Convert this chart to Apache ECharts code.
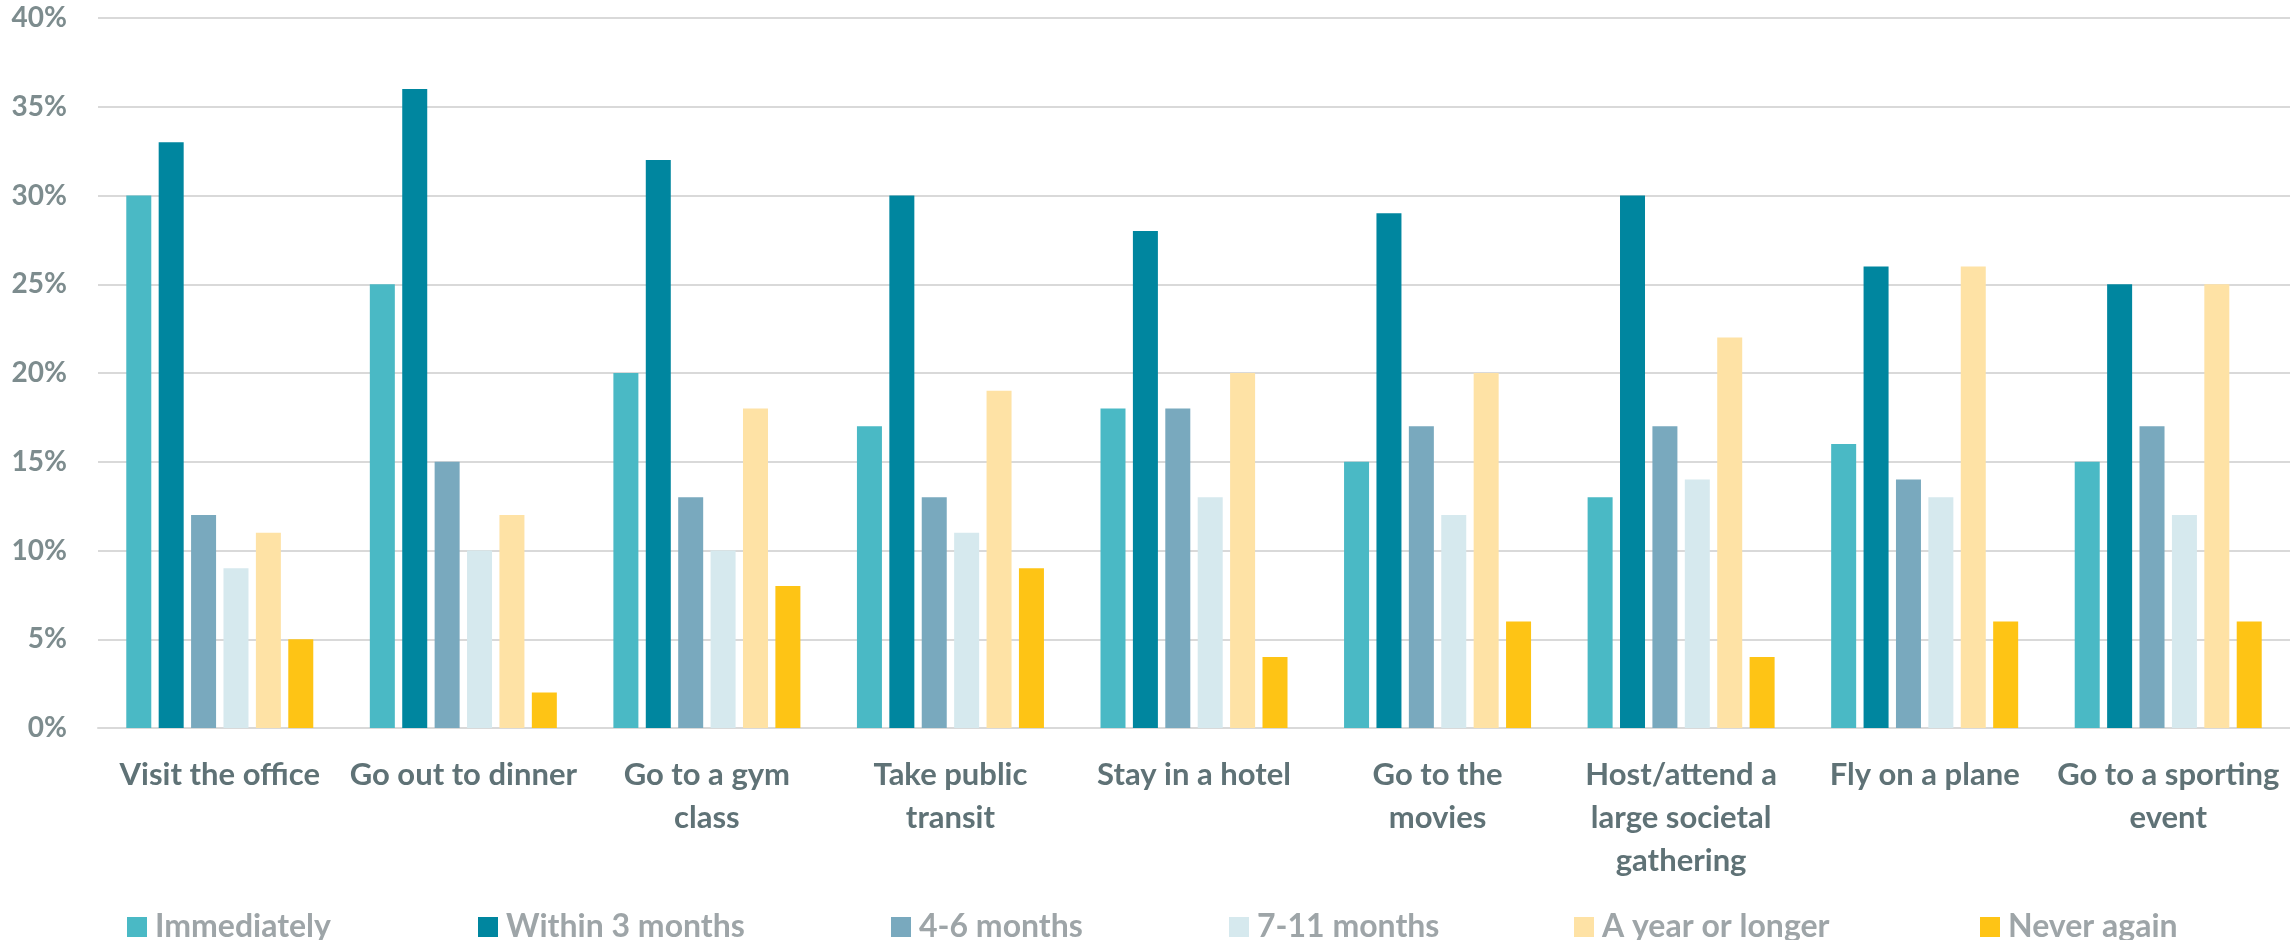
<!DOCTYPE html>
<html>
<head>
<meta charset="utf-8">
<script src="https://cdn.jsdelivr.net/npm/echarts@6/dist/echarts.min.js"></script>
<style>
html,body{margin:0;padding:0;background:#fff;}
#chart{width:2290px;height:940px;}
</style>
</head>
<body>
<div id="chart"></div>
<script>
const categories = [
  "Visit the office",
  "Go out to dinner",
  "Go to a gym\nclass",
  "Take public\ntransit",
  "Stay in a hotel",
  "Go to the\nmovies",
  "Host/attend a\nlarge societal\ngathering",
  "Fly on a plane",
  "Go to a sporting\nevent"
];
const seriesNames = ["Immediately", "Within 3 months", "4-6 months", "7-11 months", "A year or longer", "Never again"];
const immediately   = [30, 25, 20, 17, 18, 15, 13, 16, 15];
const within3months = [33, 36, 32, 30, 28, 29, 30, 26, 25];
const months4to6    = [12, 15, 13, 13, 18, 17, 17, 14, 17];
const months7to11   = [9, 10, 10, 11, 13, 12, 14, 13, 12];
const yearOrLonger  = [11, 12, 18, 19, 20, 20, 22, 26, 25];
const neverAgain    = [5, 2, 8, 9, 4, 6, 4, 6, 6];
const yTicks = [0, 5, 10, 15, 20, 25, 30, 35, 40];

const values = [immediately, within3months, months4to6, months7to11, yearOrLonger, neverAgain];
const colors = ["#4ab9c5", "#00869f", "#79a9be", "#d6e9ee", "#fee2a5", "#fec415"];
const legendLeft = [127, 478, 891, 1229, 1574, 1980];
const FONT = "Lato, 'Open Sans', sans-serif";

const chart = echarts.init(document.getElementById('chart'), null, {renderer: 'canvas'});
const option = {
  animation: false,
  backgroundColor: '#ffffff',
  grid: {left: 98, right: -4, top: 18, bottom: 212, containLabel: false},
  legend: seriesNames.map((n, i) => ({
    data: [n],
    left: legendLeft[i],
    top: 911,
    padding: 0,
    itemWidth: 20,
    itemHeight: 20,
    itemGap: 8,
    icon: 'rect',
    selectedMode: false,
    textStyle: {color: '#9ea5a8', fontSize: 32, fontFamily: FONT, fontWeight: 'bold', padding: [0, 0, 0, 3]}
  })),
  xAxis: {
    type: 'category',
    data: categories,
    axisLine: {show: true, lineStyle: {color: '#d9d9d9', width: 2}},
    axisTick: {show: false},
    axisLabel: {
      interval: 0,
      margin: 25,
      color: '#5f7276',
      fontSize: 31,
      fontWeight: 'bold',
      fontFamily: FONT,
      lineHeight: 43,
      verticalAlign: 'top'
    }
  },
  yAxis: {
    type: 'value',
    min: yTicks[0],
    max: yTicks[yTicks.length - 1],
    interval: 5,
    axisLine: {show: false},
    axisTick: {show: false},
    splitLine: {lineStyle: {color: '#d9d9d9', width: 2}},
    axisLabel: {
      margin: 31,
      color: '#7d8c8e',
      fontSize: 28,
      fontWeight: 'bold',
      fontFamily: FONT,
      formatter: '{value}%'
    }
  },
  series: seriesNames.map((n, i) => ({
    name: n,
    type: 'bar',
    data: values[i],
    barWidth: 25,
    barGap: '29.6%',
    itemStyle: {color: colors[i]}
  }))
};
chart.setOption(option);
</script>
</body>
</html>
